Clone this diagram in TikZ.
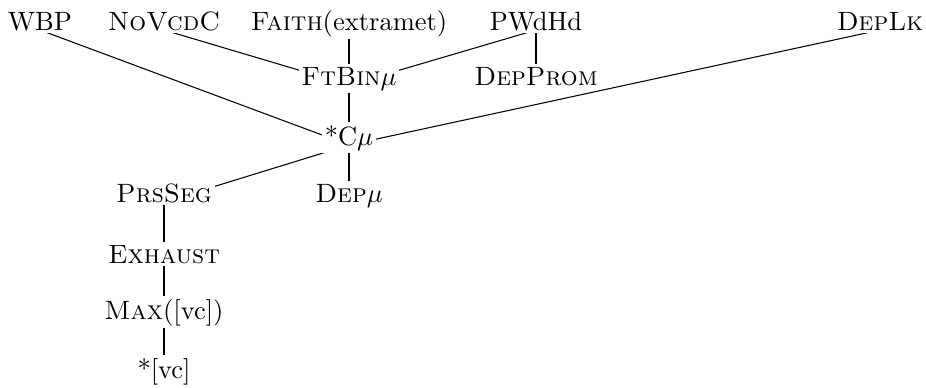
\documentclass[tikz,border=0pt]{standalone}
\usetikzlibrary{backgrounds}
\begin{document}
\begin{tikzpicture}[x=0.3774pt,y=-0.3774pt,
  cn/.style={fill=white, inner sep=1pt, anchor=base},
  con/.style={line width=0.4pt, black}]
\useasboundingbox (0,0) rectangle (926,387);
\node[cn] (wbp)   at (40,30)  {WBP};
\node[cn] (novcd) at (164,30) {\textsc{NoVcdC}};
\node[cn] (faith) at (349,30) {\textsc{Faith}(extramet)};
\node[cn] (pwd)   at (536,30) {PWdHd};
\node[cn] (deplk) at (880,30) {\textsc{DepLk}};
\node[cn] (ftbin) at (349,85) {\textsc{FtBin}$\mu$};
\node[cn] (depprom) at (536,85) {\textsc{DepProm}};
\node[cn] (cmu)   at (349,145) {*C$\mu$};
\node[cn] (prs)   at (164,202) {\textsc{PrsSeg}};
\node[cn] (depmu) at (349,202) {\textsc{Dep}$\mu$};
\node[cn] (exh)   at (164,263) {\textsc{Exhaust}};
\node[cn] (max)   at (164,319) {\textsc{Max}([vc])};
\node[cn] (vc)    at (164,378) {*[vc]};
\begin{pgfonlayer}{background}
\draw[con] (wbp.base) -- (cmu.base);
\draw[con] (novcd.base) -- (ftbin.base);
\draw[con] (faith.base) -- (ftbin.base);
\draw[con] (pwd.base) -- (ftbin.base);
\draw[con] (pwd.base) -- (depprom.base);
\draw[con] (ftbin.base) -- (cmu.base);
\draw[con] (deplk.base) -- (cmu.base);
\draw[con] (cmu.base) -- (prs.base);
\draw[con] (cmu.base) -- (depmu.base);
\draw[con] (prs.base) -- (exh.base);
\draw[con] (exh.base) -- (max.base);
\draw[con] (max.base) -- (vc.base);
\end{pgfonlayer}
\end{tikzpicture}
\end{document}
